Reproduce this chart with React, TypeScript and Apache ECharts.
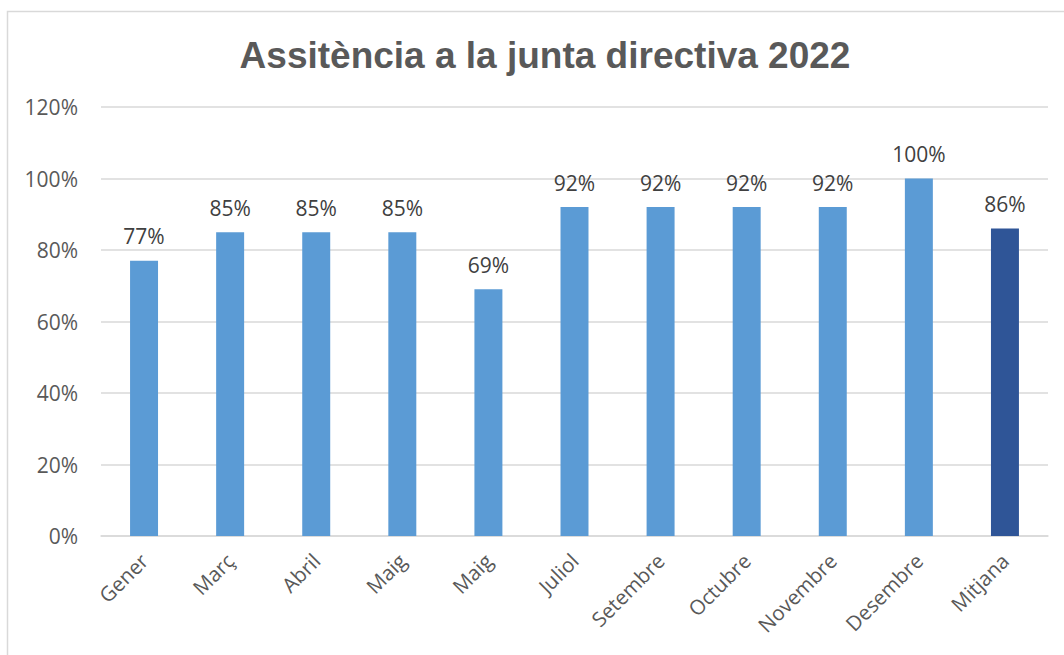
import React, { useEffect, useRef } from "react";
import * as echarts from "echarts";

const title = "Assitència a la junta directiva 2022";
const categories = ["Gener", "Març", "Abril", "Maig", "Maig", "Juliol", "Setembre", "Octubre", "Novembre", "Desembre", "Mitjana"];
const values = [0.77, 0.85, 0.85, 0.85, 0.69, 0.92, 0.92, 0.92, 0.92, 1.0, 0.86];
const highlightIndex = 10;
const yTicks = [0, 0.2, 0.4, 0.6, 0.8, 1.0, 1.2];

export default function App() {
  const ref = useRef<HTMLDivElement>(null);
  useEffect(() => {
    const chart = echarts.init(ref.current!, null, { renderer: "svg" });
    const font = "'Open Sans', sans-serif";
    chart.setOption({
      animation: false,
      backgroundColor: "#ffffff",
      title: {
        text: title,
        left: 540,
        textAlign: "center",
        top: 32,
        textStyle: { fontFamily: "'Liberation Sans', Arial, sans-serif", fontWeight: "bold", fontSize: 37, color: "#595959" },
      },
      graphic: [
        {
          type: "rect",
          shape: { x: 7.5, y: 11.5, width: 2000, height: 2000 },
          style: { fill: "none", stroke: "#d9d9d9", lineWidth: 1.5 },
          silent: true,
        },
      ],
      grid: { left: 101, right: 16, top: 107, bottom: 119 },
      xAxis: {
        type: "category",
        data: categories,
        axisLine: { lineStyle: { color: "#d9d9d9", width: 1.5 } },
        axisTick: { show: false },
        axisLabel: { rotate: 45, margin: 21, color: "#595959", fontSize: 20.5, fontFamily: font, interval: 0 },
      },
      yAxis: {
        type: "value",
        min: yTicks[0],
        max: yTicks[yTicks.length - 1],
        interval: 0.2,
        axisLine: { show: false },
        axisTick: { show: false },
        splitLine: { lineStyle: { color: "#d9d9d9", width: 1.5 } },
        axisLabel: {
          margin: 23,
          color: "#595959",
          fontSize: 21,
          fontFamily: font,
          formatter: (v: number) => Math.round(v * 100) + "%",
        },
      },
      series: [
        {
          type: "bar",
          barWidth: "32.5%",
          data: values.map((v, i) => ({
            value: v,
            itemStyle: { color: i === highlightIndex ? "#2f5597" : "#5b9bd5" },
          })),
          label: {
            show: true,
            position: "top",
            distance: 14,
            color: "#404040",
            fontSize: 21,
            fontFamily: font,
            formatter: (p: any) => Math.round(p.value * 100) + "%",
          },
        },
      ],
    });
    return () => chart.dispose();
  }, []);
  return <div ref={ref} style={{ position: "fixed", left: 0, top: 0, width: 1064, height: 655 }} />;
}
